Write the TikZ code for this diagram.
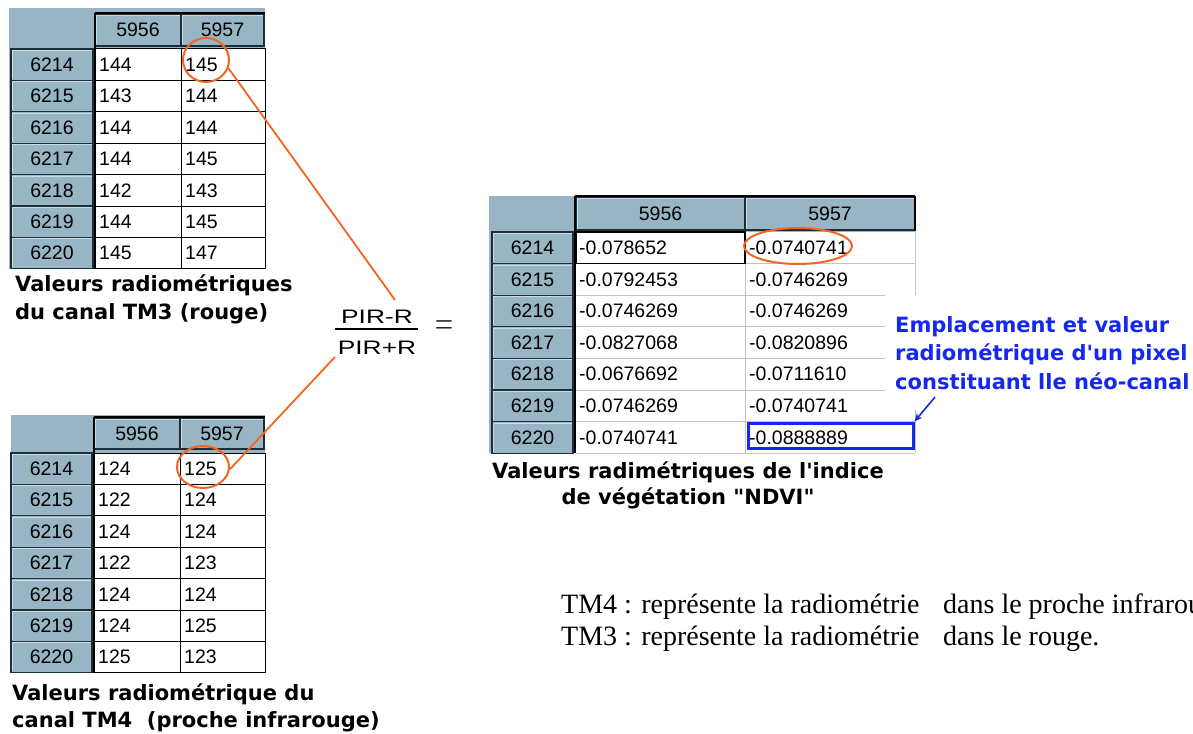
\documentclass[tikz,border=0pt]{standalone}
\usepackage{fontspec}
\usetikzlibrary{shapes.geometric,arrows.meta}
\newfontfamily\tabf{Liberation Sans}
\newfontfamily\capf{DejaVu Sans}[Ligatures=TeXOff]
\newfontfamily\serf{Liberation Serif}
\definecolor{hdrfill}{HTML}{97B5C5}
\definecolor{hdrlight}{HTML}{CADDE6}
\definecolor{hdrdark}{HTML}{1E2E36}
\definecolor{orng}{HTML}{F5641E}
\definecolor{blu}{HTML}{1428F0}
\definecolor{gridgray}{HTML}{C4C4C4}
\tikzset{
  hbox/.style={draw=hdrdark, fill=hdrfill, line width=1.3},
  hl/.style={draw=hdrlight, line width=1},
  tnum/.style={font=\tabf\fontsize{19.5}{19.5}\selectfont, inner sep=0},
  dcell/.style={draw=black, fill=white, line width=1},
  capt/.style={font=\capf\bfseries\fontsize{21}{28}\selectfont, inner sep=0},
  ring/.style={draw=orng, line width=2, ellipse, inner sep=0},
  oline/.style={draw=orng, line width=1.8},
  fracpart/.style={font=\tabf\fontsize{19.5}{19.5}\selectfont, inner sep=0},
}
\newcommand\HCell[6]{%
  \draw[hbox] (#2,#3) rectangle (#4,#5);
  \draw[hl] ({#2+1.5},{#5-1.5}) -- ({#2+1.5},{#3+1.5}) -- ({#4-1.5},{#3+1.5});
  \node[tnum] (#1) at ({(#2+#4)/2},{(#3+#5)/2}) {#6};}
\begin{document}
\begin{tikzpicture}[x=1pt,y=-1pt]
\clip (0,0) rectangle (1193,733);
\fill[white] (0,0) rectangle (1193,733);

% ---------- Table A : TM3 ----------
\fill[hdrfill] (9,8) rectangle (265,269);
\HCell{a-h1}{95}{14}{181}{46}{5956}
\HCell{a-h2}{181}{14}{264}{46}{5957}
\foreach \lab/\va/\vb [count=\i] in {6214/144/145,6215/143/144,6216/144/144,6217/144/145,6218/142/143,6219/144/145,6220/145/147}{
  \pgfmathsetmacro\yt{49+(\i-1)*31.4}
  \pgfmathsetmacro\yb{\yt+31.4}
  \pgfmathsetmacro\ym{\yt+15.7}
  \HCell{a-r\i}{11}{\yt}{93}{\yb}{\lab}
  \draw[dcell] (95,\yt) rectangle (181,\yb);
  \draw[dcell] (181,\yt) rectangle (265,\yb);
  \node[tnum,anchor=west] (a-\i-1) at (99,\ym) {\va};
  \node[tnum,anchor=west] (a-\i-2) at (185,\ym) {\vb};
}
\draw[line width=2.5] (95,13) -- (95,269);
\draw[line width=2.5] (95,13) -- (265,13);
\node[capt, anchor=west, align=left] (capA) at (15,299) {Valeurs radiométriques\\du canal TM3 (rouge)};

% ---------- Table B : TM4 ----------
\fill[hdrfill] (11,415) rectangle (265,673);
\HCell{b-h1}{94}{418}{180}{449}{5956}
\HCell{b-h2}{180}{418}{264}{449}{5957}
\foreach \lab/\va/\vb [count=\i] in {6214/124/125,6215/122/124,6216/124/124,6217/122/123,6218/124/124,6219/124/125,6220/125/123}{
  \pgfmathsetmacro\yt{453+(\i-1)*31.4}
  \pgfmathsetmacro\yb{\yt+31.4}
  \pgfmathsetmacro\ym{\yt+15.7}
  \HCell{b-r\i}{11}{\yt}{92}{\yb}{\lab}
  \draw[dcell] (94,\yt) rectangle (180,\yb);
  \draw[dcell] (180,\yt) rectangle (265,\yb);
  \node[tnum,anchor=west] (b-\i-1) at (98,\ym) {\va};
  \node[tnum,anchor=west] (b-\i-2) at (184,\ym) {\vb};
}
\draw[line width=2.5] (94,417) -- (94,673);
\draw[line width=2.5] (94,417) -- (265,417);
\node[capt, anchor=west, align=left, font=\capf\bfseries\fontsize{21}{27}\selectfont] (capB) at (12,708) {Valeurs radiométrique du\\canal TM4\ \ (proche infrarouge)};

% ---------- Table C : NDVI ----------
\fill[hdrfill] (489,196) rectangle (915,453);
\HCell{c-h1}{576}{197}{745}{230}{5956}
\HCell{c-h2}{745}{197}{915}{230}{5957}
\fill[white] (576,232) rectangle (915,453);
\draw[gridgray, line width=1] (576,263.6) -- (915,263.6);
\foreach \k in {2,...,5}{
  \draw[gridgray, line width=1] (576,{232+\k*31.6}) -- (885,{232+\k*31.6});
}
\draw[gridgray, line width=1] (576,421.6) -- (915,421.6);
\draw[gridgray, line width=1] (576,453) -- (915,453);
\draw[gridgray, line width=1] (745,232) -- (745,453);
\draw[gridgray, line width=1] (915,232) -- (915,295);
\draw[gridgray, line width=1] (915,410) -- (915,453);
\draw[black, line width=1.2] (576,232) rectangle (745,263.6);
\foreach \lab/\va/\vb [count=\i] in {6214/-0.078652/-0.0740741,6215/-0.0792453/-0.0746269,6216/-0.0746269/-0.0746269,6217/-0.0827068/-0.0820896,6218/-0.0676692/-0.0711610,6219/-0.0746269/-0.0740741,6220/-0.0740741/-0.0888889}{
  \pgfmathsetmacro\yt{232+(\i-1)*31.6}
  \pgfmathsetmacro\yb{\yt+31.6}
  \pgfmathsetmacro\ym{\yt+15.8}
  \HCell{c-r\i}{492}{\yt}{573}{\yb}{\lab}
  \node[tnum,anchor=west] (c-\i-1) at (579,\ym) {\va};
  \node[tnum,anchor=west] (c-\i-2) at (749,\ym) {\vb};
}
\draw[line width=2.5] (575,196) -- (575,453);
\draw[line width=2] (575,196) -- (915,196);
\draw[line width=1.5] (915,196) -- (915,231);
\node[capt, align=center, font=\capf\bfseries\fontsize{21}{26}\selectfont] (capC) at (688,485) {Valeurs radimétriques de l'indice\\de végétation "NDVI"};

% ---------- highlights ----------
\node[ring, minimum width=46, minimum height=44] (ringA) at (206,60) {};
\node[ring, minimum width=52, minimum height=42] (ringB) at (203,467) {};
\node[ring, minimum width=108, minimum height=36] (ringC) at (798,246) {};
\node[draw=blu, line width=3, minimum width=165, minimum height=25, inner sep=0] (sel) at (830.5,435.5) {};

% ---------- formula ----------
\node[fracpart] (num) at (377,317) {\scalebox{1.35}[1]{PIR-R}};
\node[fracpart] (den) at (377,348) {\scalebox{1.35}[1]{PIR+R}};
\draw[line width=2.2] (335,329) -- (418,329);
\node[inner sep=0, font=\fontsize{36}{36}\selectfont] (eq) at (444,327.5) {\scalebox{1}[1.55]{$=$}};
\coordinate (fA) at (395,300);
\coordinate (fB) at (335,357);
\draw[oline] (ringA.-20) -- (fA);
\draw[oline] (ringB.-5) -- (fB);

% ---------- note ----------
\node[font=\capf\bfseries\fontsize{21}{28.5}\selectfont, text=blu, anchor=west, align=left, inner sep=0] (note) at (895,353) {Emplacement et valeur\\radiométrique d'un pixel\\constituant lle néo-canal};
\coordinate (noteTail) at (935,397);
\draw[blu, line width=1.6, -{Stealth[length=8,width=7]}] (noteTail) -- (sel.north east);

% ---------- legend ----------
\node[font=\serf\fontsize{28}{32}\selectfont, anchor=west, align=left, inner sep=0] (legend) at (561,623) {TM4 : représente la radiométrie\hspace{0.84em}dans le proche infrarouge\\TM3 : représente la radiométrie\hspace{0.84em}dans le rouge.};
\end{tikzpicture}
\end{document}
